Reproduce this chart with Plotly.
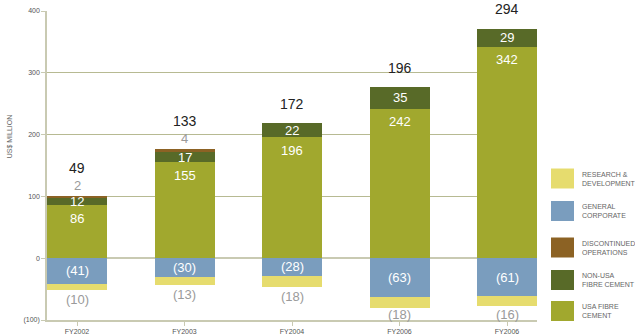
import plotly.graph_objects as go

# Operating result by segment, US$ million
years = ["FY2002", "FY2003", "FY2004", "FY2006", "FY2006"]
usa_fibre_cement = [86, 155, 196, 242, 342]
non_usa_fibre_cement = [12, 17, 22, 35, 29]
discontinued_operations = [2, 4, None, None, None]
general_corporate = [-41, -30, -28, -63, -61]
research_development = [-10, -13, -18, -18, -16]
totals = [49, 133, 172, 196, 294]

y_ticks = [-100, 0, 100, 200, 300, 400]
y_tick_text = ["(100)", "0", "100", "200", "300", "400"]

COLORS = {
    "usa": "#a1a82e",
    "nonusa": "#586a28",
    "disc": "#8c6224",
    "gc": "#7a9dbe",
    "rd": "#e6dc6e",
}
FONT = "Liberation Sans, Arial, sans-serif"

W, H = 635, 335
L, R, T, B = 46.7, 537.0, 11.0, 320.0
PW, PH = R - L, B - T
Y_MIN, Y_MAX = -100, 400

xs = list(range(len(years)))
BAR_W = 60 / 107.5

fig = go.Figure()
series = [
    ("USA FIBRE CEMENT", usa_fibre_cement, COLORS["usa"]),
    ("NON-USA FIBRE CEMENT", non_usa_fibre_cement, COLORS["nonusa"]),
    ("DISCONTINUED OPERATIONS", discontinued_operations, COLORS["disc"]),
    ("GENERAL CORPORATE", general_corporate, COLORS["gc"]),
    ("RESEARCH & DEVELOPMENT", research_development, COLORS["rd"]),
]
for name, vals, col in series:
    fig.add_trace(go.Bar(
        x=xs, y=vals, name=name, width=BAR_W,
        marker=dict(color=col, line=dict(width=0)),
        showlegend=False, hoverinfo="y+name",
    ))


def fmt(v):
    return f"({abs(v)})" if v < 0 else str(v)


def value_to_px(v):
    return B - (v - Y_MIN) / (Y_MAX - Y_MIN) * PH


ann = []


def label(x, y, text, color, size=13, yshift=0, yanchor="middle"):
    ann.append(dict(x=x, y=y, xref="x", yref="y", text=text, showarrow=False,
                    font=dict(family=FONT, size=size, color=color),
                    xanchor="center", yanchor=yanchor, yshift=yshift))


for i in xs:
    u, n, d = usa_fibre_cement[i], non_usa_fibre_cement[i], discontinued_operations[i]
    g, r = general_corporate[i], research_development[i]
    top = u + n + (d or 0)
    label(i, u, fmt(u), "white", yshift=-13)
    label(i, u + n / 2, fmt(n), "white")
    if d:
        label(i, top, fmt(d), "#9a9a9a", yshift=11)
        label(i, top, fmt(totals[i]), "#222222", size=14, yshift=28)
    else:
        label(i, top, fmt(totals[i]), "#222222", size=14, yshift=19.5)
    label(i, g / 2, fmt(g), "white")
    # keep the R&D caption just above the baseline axis
    bottom_px = value_to_px(g + r)
    shift = min(10.0, 314.0 - bottom_px)
    label(i, g + r, fmt(r), "#9a9a9a", yshift=-shift)


def px_x(px):
    return (px - L) / PW


def px_y(py):
    return (B - py) / PH


# axis title
ann.append(dict(x=px_x(9), y=px_y(136), xref="paper", yref="paper",
                text="US$ MILLION", textangle=-90, showarrow=False,
                font=dict(family=FONT, size=7, color="#666666"),
                xanchor="center", yanchor="middle"))

# legend: swatches with two-line captions
legend_items = [
    ("RESEARCH &<br>DEVELOPMENT", COLORS["rd"], 178.5),
    ("GENERAL<br>CORPORATE", COLORS["gc"], 211.0),
    ("DISCONTINUED<br>OPERATIONS", COLORS["disc"], 247.5),
    ("NON-USA<br>FIBRE CEMENT", COLORS["nonusa"], 280.0),
    ("USA FIBRE<br>CEMENT", COLORS["usa"], 311.0),
]
shapes = []
for text, col, cy in legend_items:
    shapes.append(dict(type="rect", xref="paper", yref="paper",
                       x0=px_x(551), x1=px_x(574),
                       y0=px_y(cy + 10), y1=px_y(cy - 10),
                       fillcolor=col, line=dict(width=0)))
    ann.append(dict(x=px_x(580), y=px_y(cy), xref="paper", yref="paper",
                    text=text, showarrow=False, align="left",
                    font=dict(family=FONT, size=7, color="#666666"),
                    xanchor="left", yanchor="middle"))

fig.update_layout(
    width=W, height=H,
    margin=dict(l=L, r=W - R, t=T, b=H - B, pad=0, autoexpand=False),
    barmode="relative", bargap=0,
    paper_bgcolor="white", plot_bgcolor="white",
    font=dict(family=FONT, size=7, color="#666666"),
    annotations=ann, shapes=shapes,
    xaxis=dict(
        range=[-BAR_W / 2, 4 + BAR_W / 2], tickvals=xs, ticktext=years,
        showgrid=False, zeroline=False, showline=True, linecolor="#c9cab2",
        linewidth=1.5, ticks="outside", ticklen=4, tickcolor="#c9cab2",
        tickfont=dict(size=7, color="#555555"), automargin=False, fixedrange=True,
    ),
    yaxis=dict(
        range=[Y_MIN, Y_MAX], tickvals=y_ticks, ticktext=y_tick_text,
        showgrid=True, gridcolor="#b7ba92", gridwidth=1,
        zeroline=True, zerolinecolor="#c9cab2", zerolinewidth=1.5,
        showline=True, linecolor="#c9cab2", linewidth=1.5,
        ticks="outside", ticklen=4, tickcolor="#c9cab2",
        tickfont=dict(size=7, color="#555555"), automargin=False, fixedrange=True,
    ),
)

fig.write_html("out.html")
